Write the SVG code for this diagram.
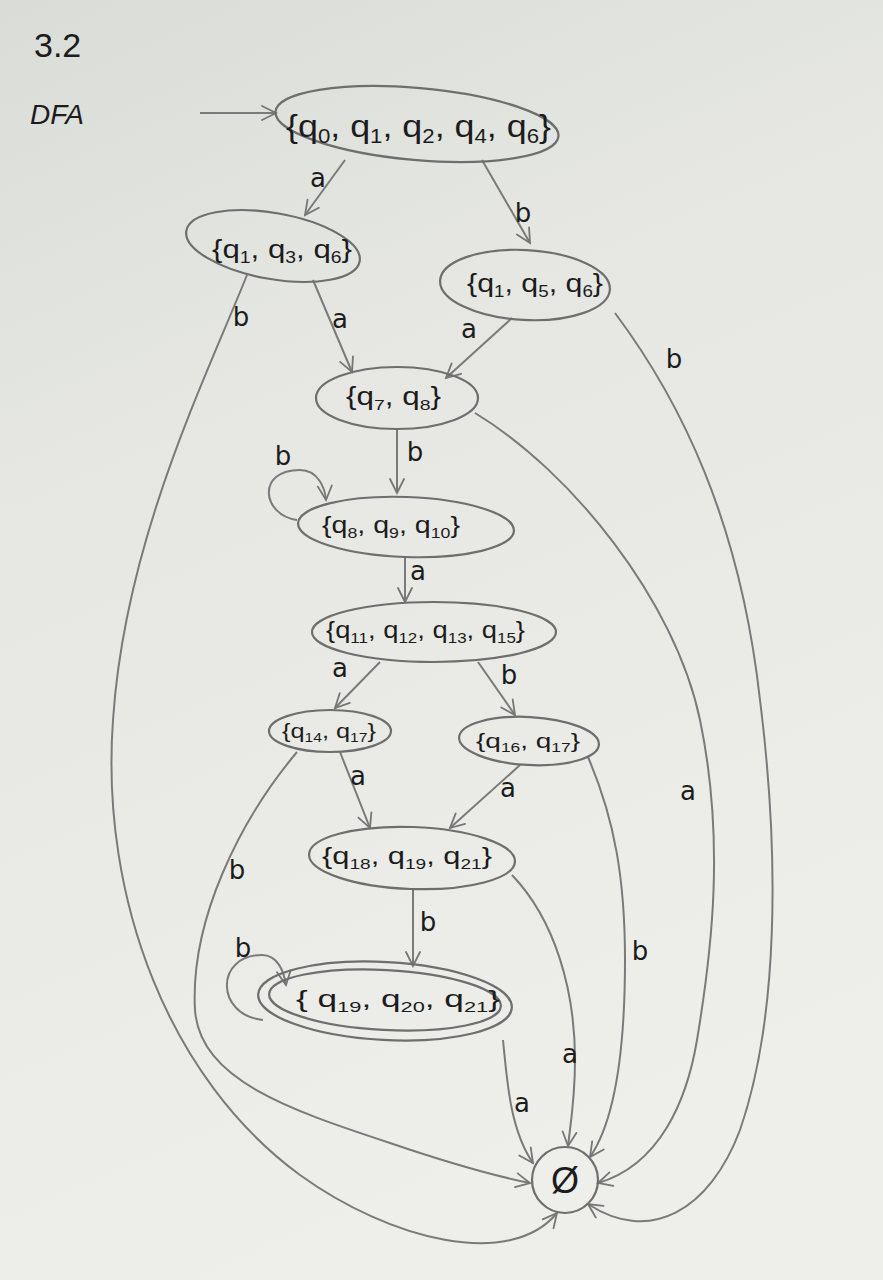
<svg xmlns="http://www.w3.org/2000/svg" width="883" height="1280" viewBox="0 0 883 1280">
  <defs>
    <linearGradient id="paper" x1="0" y1="0" x2="0.3" y2="1">
      <stop offset="0" stop-color="#d9dcd7"/>
      <stop offset="0.35" stop-color="#e6e7e3"/>
      <stop offset="1" stop-color="#eeeeeb"/>
    </linearGradient>
    <marker id="arr" viewBox="-16 -9 18 18" markerWidth="18" markerHeight="18" refX="0" refY="0" orient="auto" markerUnits="userSpaceOnUse">
      <path d="M-14,-7 L0,0 L-14,7" fill="none" stroke="#767676" stroke-width="1.8" stroke-linecap="round"/>
    </marker>
    <style>
      .node { fill: none; stroke: #6e6e6e; stroke-width: 2.2; }
      .edge { fill: none; stroke: #7a7a7a; stroke-width: 2; marker-end: url(#arr); }
      .lbl { font-family: "Liberation Sans", "DejaVu Sans", sans-serif; fill: #1c1c1c; }
      .s { font-size: 0.62em; }
      .el { font-family: "DejaVu Sans", "Liberation Sans", sans-serif; font-size: 26px; fill: #1c1c1c; text-anchor: middle; }
    </style>
  </defs>

  <!-- paper -->
  <rect x="0" y="0" width="883" height="1280" fill="url(#paper)"/>

  <!-- heading -->
  <text x="34" y="57" class="lbl" font-size="34">3.2</text>
  <text x="30" y="124" class="lbl" font-size="28" font-style="italic">DFA</text>

  <!-- transitions -->
  <g id="edges">
    <path class="edge" d="M200,113 L276,113"/>
    <path class="edge" d="M345,160 L305,215"/>
    <path class="edge" d="M482,160 L530,243"/>
    <path class="edge" d="M313,280 L352,372"/>
    <path class="edge" d="M512,318 L446,378"/>
    <path class="edge" d="M397,430 L397,493"/>
    <path class="edge" d="M405,557 L405,602"/>
    <path class="edge" d="M380,662 L335,708"/>
    <path class="edge" d="M478,662 L515,715"/>
    <path class="edge" d="M340,752 L370,828"/>
    <path class="edge" d="M520,765 L450,828"/>
    <path class="edge" d="M413,890 L413,966"/>
    <!-- self loops -->
    <path class="edge" d="M297,520 C262,515 256,470 300,470 C318,470 325,488 326,500"/>
    <path class="edge" d="M263,1020 C215,1015 215,955 262,955 C278,955 284,972 286,985"/>
    <!-- transitions into the empty set -->
    <path class="edge" d="M247,275 C205,380 125,540 113,720 C100,900 170,1080 300,1175 C390,1240 510,1270 557,1213"/>
    <path class="edge" d="M297,752 C240,820 190,920 195,1010 C200,1080 290,1110 390,1143 C440,1160 490,1175 530,1183"/>
    <path class="edge" d="M475,413 C570,470 675,600 700,720 C725,840 712,950 697,1040 C687,1100 660,1165 598,1183"/>
    <path class="edge" d="M615,313 C680,400 740,520 760,700 C780,860 778,1020 740,1130 C710,1210 650,1245 588,1204"/>
    <path class="edge" d="M588,757 C615,820 625,880 625,960 C625,1060 612,1125 590,1157"/>
    <path class="edge" d="M512,875 C555,920 575,990 575,1060 C575,1100 570,1128 568,1146"/>
    <path class="edge" d="M503,1040 C507,1080 510,1130 533,1163"/>
  </g>

  <!-- transition labels -->
  <g id="edge-labels">
    <text class="el" x="318" y="187">a</text>
    <text class="el" x="523" y="222">b</text>
    <text class="el" x="340" y="328">a</text>
    <text class="el" x="469" y="338">a</text>
    <text class="el" x="241" y="326">b</text>
    <text class="el" x="674" y="368">b</text>
    <text class="el" x="415" y="461">b</text>
    <text class="el" x="283" y="465">b</text>
    <text class="el" x="418" y="580">a</text>
    <text class="el" x="340" y="677">a</text>
    <text class="el" x="509" y="684">b</text>
    <text class="el" x="358" y="785">a</text>
    <text class="el" x="508" y="797">a</text>
    <text class="el" x="237" y="879">b</text>
    <text class="el" x="688" y="800">a</text>
    <text class="el" x="428" y="931">b</text>
    <text class="el" x="243" y="957">b</text>
    <text class="el" x="640" y="960">b</text>
    <text class="el" x="570" y="1063">a</text>
    <text class="el" x="522" y="1112">a</text>
  </g>

  <!-- states -->
  <g id="s0">
    <ellipse class="node" cx="417" cy="124" rx="142" ry="36" transform="rotate(5 417 124)"/>
    <text class="lbl" x="286" y="137" font-size="32" textLength="265" lengthAdjust="spacingAndGlyphs">{q<tspan class="s" dy="6">0</tspan><tspan dy="-6">, q</tspan><tspan class="s" dy="6">1</tspan><tspan dy="-6">, q</tspan><tspan class="s" dy="6">2</tspan><tspan dy="-6">, q</tspan><tspan class="s" dy="6">4</tspan><tspan dy="-6">, q</tspan><tspan class="s" dy="6">6</tspan><tspan dy="-6">}</tspan></text>
  </g>
  <g id="s1">
    <ellipse class="node" cx="273" cy="246" rx="88" ry="33" transform="rotate(10 273 246)"/>
    <text class="lbl" x="212" y="258" font-size="26" textLength="140" lengthAdjust="spacingAndGlyphs">{q<tspan class="s" dy="5">1</tspan><tspan dy="-5">, q</tspan><tspan class="s" dy="5">3</tspan><tspan dy="-5">, q</tspan><tspan class="s" dy="5">6</tspan><tspan dy="-5">}</tspan></text>
  </g>
  <g id="s2">
    <ellipse class="node" cx="525" cy="285" rx="85" ry="35" transform="rotate(3 525 285)"/>
    <text class="lbl" x="467" y="292" font-size="26" textLength="136" lengthAdjust="spacingAndGlyphs">{q<tspan class="s" dy="5">1</tspan><tspan dy="-5">, q</tspan><tspan class="s" dy="5">5</tspan><tspan dy="-5">, q</tspan><tspan class="s" dy="5">6</tspan><tspan dy="-5">}</tspan></text>
  </g>
  <g id="s3">
    <ellipse class="node" cx="397" cy="398" rx="81" ry="31"/>
    <text class="lbl" x="346" y="405" font-size="25" textLength="95" lengthAdjust="spacingAndGlyphs">{q<tspan class="s" dy="5">7</tspan><tspan dy="-5">, q</tspan><tspan class="s" dy="5">8</tspan><tspan dy="-5">}</tspan></text>
  </g>
  <g id="s4">
    <ellipse class="node" cx="406" cy="527" rx="108" ry="30" transform="rotate(2 406 527)"/>
    <text class="lbl" x="322" y="533" font-size="24" textLength="138" lengthAdjust="spacingAndGlyphs">{q<tspan class="s" dy="5">8</tspan><tspan dy="-5">, q</tspan><tspan class="s" dy="5">9</tspan><tspan dy="-5">, q</tspan><tspan class="s" dy="5">10</tspan><tspan dy="-5">}</tspan></text>
  </g>
  <g id="s5">
    <ellipse class="node" cx="434" cy="632" rx="122" ry="30"/>
    <text class="lbl" x="326" y="638" font-size="24" textLength="199" lengthAdjust="spacingAndGlyphs">{q<tspan class="s" dy="5">11</tspan><tspan dy="-5">, q</tspan><tspan class="s" dy="5">12</tspan><tspan dy="-5">, q</tspan><tspan class="s" dy="5">13</tspan><tspan dy="-5">, q</tspan><tspan class="s" dy="5">15</tspan><tspan dy="-5">}</tspan></text>
  </g>
  <g id="s6">
    <ellipse class="node" cx="330" cy="731" rx="61" ry="21"/>
    <text class="lbl" x="282" y="738" font-size="20" textLength="94" lengthAdjust="spacingAndGlyphs">{q<tspan class="s" dy="4">14</tspan><tspan dy="-4">, q</tspan><tspan class="s" dy="4">17</tspan><tspan dy="-4">}</tspan></text>
  </g>
  <g id="s7">
    <ellipse class="node" cx="529" cy="741" rx="70" ry="24" transform="rotate(3 529 741)"/>
    <text class="lbl" x="476" y="748" font-size="21" textLength="104" lengthAdjust="spacingAndGlyphs">{q<tspan class="s" dy="4">16</tspan><tspan dy="-4">, q</tspan><tspan class="s" dy="4">17</tspan><tspan dy="-4">}</tspan></text>
  </g>
  <g id="s8">
    <ellipse class="node" cx="412" cy="858" rx="103" ry="31" transform="rotate(2 412 858)"/>
    <text class="lbl" x="322" y="864" font-size="24" textLength="170" lengthAdjust="spacingAndGlyphs">{q<tspan class="s" dy="5">18</tspan><tspan dy="-5">, q</tspan><tspan class="s" dy="5">19</tspan><tspan dy="-5">, q</tspan><tspan class="s" dy="5">21</tspan><tspan dy="-5">}</tspan></text>
  </g>
  <g id="s9">
    <ellipse class="node" cx="385" cy="1001" rx="127" ry="39" transform="rotate(3 385 1001)"/>
    <ellipse class="node" cx="385" cy="1000" rx="116" ry="30" transform="rotate(3 385 1000)"/>
    <text class="lbl" x="296" y="1007" font-size="24" textLength="204" lengthAdjust="spacingAndGlyphs">{ q<tspan class="s" dy="5">19</tspan><tspan dy="-5">, q</tspan><tspan class="s" dy="5">20</tspan><tspan dy="-5">, q</tspan><tspan class="s" dy="5">21</tspan><tspan dy="-5">}</tspan></text>
  </g>
  <g id="dead">
    <circle class="node" cx="565" cy="1180" r="33"/>
    <text class="lbl" x="565" y="1193" font-size="36" text-anchor="middle">Ø</text>
  </g>
</svg>
